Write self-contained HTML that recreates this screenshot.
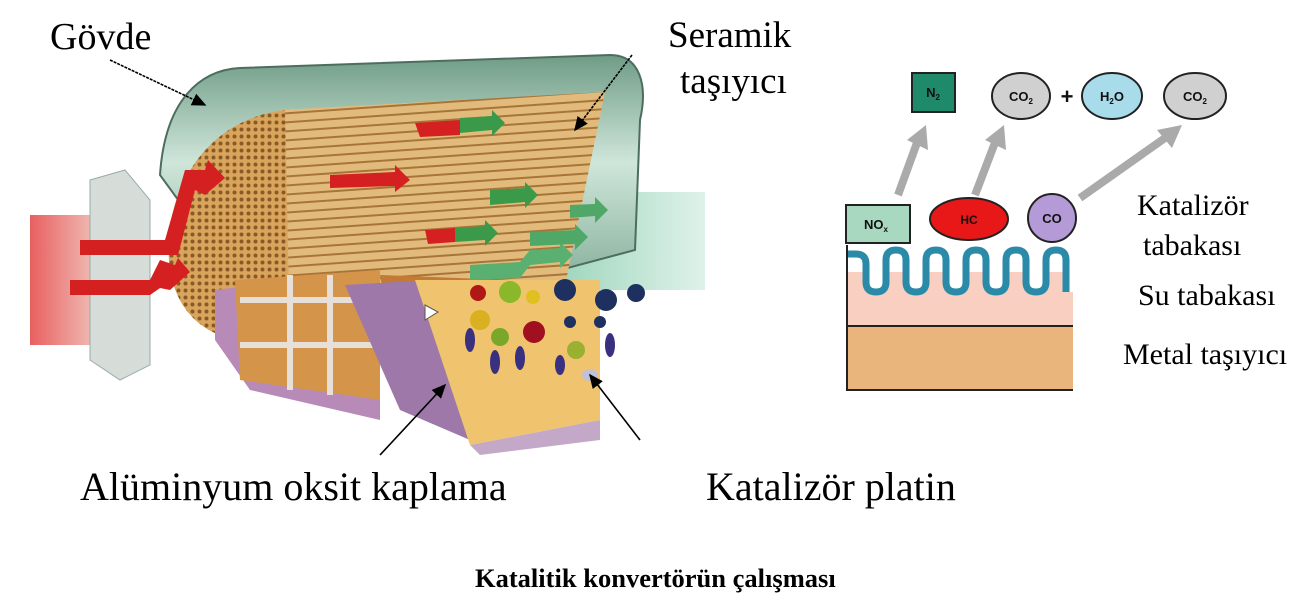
<!DOCTYPE html>
<html><head><meta charset="utf-8"><style>
html,body{margin:0;padding:0;background:#fff;}
body{width:1313px;height:613px;position:relative;overflow:hidden;font-family:"Liberation Serif",serif;}
.t{position:absolute;color:#000;white-space:nowrap;}
</style></head><body>
<svg width="1313" height="613" style="position:absolute;left:0;top:0">
<defs>
<linearGradient id="inl" x1="0" x2="1"><stop offset="0" stop-color="#e86060"/><stop offset="1" stop-color="#f4eee4"/></linearGradient>
<linearGradient id="outl" x1="0" x2="1"><stop offset="0" stop-color="#9fd6bd"/><stop offset="1" stop-color="#dff2ea"/></linearGradient>
<linearGradient id="shell" x1="0" y1="0" x2="0" y2="1"><stop offset="0" stop-color="#6f9c86"/><stop offset="0.5" stop-color="#cfe6da"/><stop offset="1" stop-color="#8fb6a2"/></linearGradient>
<pattern id="stripes" width="10" height="9" patternUnits="userSpaceOnUse" patternTransform="rotate(-4)"><rect width="10" height="9" fill="#e2bb7c"/><rect y="6" width="10" height="2" fill="#a87538"/></pattern>
<pattern id="honey" width="7" height="7" patternUnits="userSpaceOnUse"><rect width="7" height="7" fill="#d9a45c"/><circle cx="3.5" cy="3.5" r="2" fill="#8a5a26"/></pattern>
<marker id="ah" markerWidth="10" markerHeight="10" refX="8" refY="5" orient="auto"><path d="M0,1 L9,5 L0,9 z" fill="#000"/></marker>
</defs>
<rect x="30" y="215" width="100" height="130" fill="url(#inl)"/>
<polygon points="90,180 125,170 150,200 150,365 120,380 90,360" fill="#d6ddd8" stroke="#9aa" />
<rect x="560" y="192" width="145" height="98" fill="url(#outl)"/>
<path d="M160,175 C165,100 200,70 240,68 L610,55 C640,55 648,85 640,120 L635,250 L560,270 L200,230 Z" fill="url(#shell)" stroke="#4d6d5e" stroke-width="2"/>
<polygon points="280,110 605,92 562,300 385,350 280,330" fill="url(#stripes)"/>
<path d="M285,110 C200,120 160,200 170,270 C180,330 230,350 290,340 Z" fill="url(#honey)"/>
<polygon points="215,290 380,270 380,420 250,390 215,340" fill="#b88ab8"/>
<polygon points="235,280 380,270 380,400 240,380" fill="#d4954a"/>
<path d="M240,300 L380,300 M240,345 L380,345 M290,275 L290,390 M330,275 L330,395" stroke="#e8e0d8" stroke-width="6"/>
<polygon points="380,275 560,282 545,300 390,330" fill="#c27a35"/>
<polygon points="345,285 430,280 470,440 400,410" fill="#9e78a8"/>
<polygon points="415,280 600,280 600,420 470,445" fill="#f0c46e"/>
<polygon points="470,445 600,420 600,440 480,455" fill="#c4a8c8"/>
<g>
<circle cx="478" cy="293" r="8" fill="#b01818"/><circle cx="510" cy="292" r="11" fill="#8ab82a"/>
<circle cx="533" cy="297" r="7" fill="#e0c020"/><circle cx="565" cy="290" r="11" fill="#1e3060"/>
<circle cx="606" cy="300" r="11" fill="#1e3060"/><circle cx="636" cy="293" r="9" fill="#1e3060"/>
<circle cx="480" cy="320" r="10" fill="#d8b020"/><circle cx="534" cy="332" r="11" fill="#a01020"/>
<circle cx="500" cy="337" r="9" fill="#7aa62a"/><circle cx="576" cy="350" r="9" fill="#9ab030"/>
<circle cx="570" cy="322" r="6" fill="#1e3060"/><circle cx="600" cy="322" r="6" fill="#1e3060"/>
<ellipse cx="470" cy="340" rx="5" ry="12" fill="#3a3080"/><ellipse cx="495" cy="362" rx="5" ry="12" fill="#3a3080"/>
<ellipse cx="520" cy="358" rx="5" ry="12" fill="#3a3080"/><ellipse cx="560" cy="365" rx="5" ry="10" fill="#3a3080"/>
<ellipse cx="610" cy="345" rx="5" ry="12" fill="#3a3080"/><ellipse cx="590" cy="375" rx="8" ry="6" fill="#c0c0d8"/>
<polygon points="425,305 438,312 425,320" fill="#fff" stroke="#555"/>
</g>
<g fill="#d42020">
<polygon points="80,240 165,240 185,170 205,170 208,160 225,178 205,195 195,190 178,255 80,255"/>
<polygon points="70,280 150,280 160,260 175,265 178,258 190,272 170,290 160,288 150,295 70,295"/>
<polygon points="330,175 395,172 395,165 410,180 395,192 395,186 330,188"/>
<polygon points="415,123 460,120 460,135 420,137"/>
<polygon points="425,230 455,228 455,242 428,244"/>
</g>
<g fill="#3a9a4a">
<polygon points="460,118 492,116 492,110 505,123 492,136 492,130 460,133"/>
<polygon points="490,190 525,188 525,182 538,195 525,208 525,202 490,205"/>
<polygon points="455,228 485,226 485,220 498,233 485,246 485,240 455,242"/>
<polygon points="470,265 520,262 530,250 560,248 560,242 573,255 560,268 560,262 530,265 520,278 470,280" fill="#5ab070"/>
<polygon points="570,205 595,204 595,197 608,210 595,223 595,216 570,218" fill="#50a868"/>
<polygon points="530,232 575,230 575,224 588,237 575,250 575,244 530,246" fill="#50a868"/>
</g>
<g stroke="#000" stroke-width="1.6" fill="none" marker-end="url(#ah)">
<line x1="110" y1="60" x2="205" y2="105" stroke-dasharray="3,1"/>
<line x1="632" y1="55" x2="575" y2="130" stroke-dasharray="3,1"/>
<line x1="380" y1="455" x2="445" y2="385"/>
<line x1="640" y1="440" x2="590" y2="375"/>
</g>
<!-- RIGHT DIAGRAM -->
<rect x="846" y="272" width="227" height="54" fill="#f8cfc0"/>
<path d="M849,258 Q856,254 866,264 L866,282 Q866,292 876,292 Q886,292 886,282 L886,260 Q886,250 896,250 Q906,250 906,260 L906,282 Q906,292 916,292 Q926,292 926,282 L926,260 Q926,250 936,250 Q946,250 946,260 L946,282 Q946,292 956,292 Q966,292 966,282 L966,260 Q966,250 976,250 Q986,250 986,260 L986,282 Q986,292 996,292 Q1006,292 1006,282 L1006,260 Q1006,250 1016,250 Q1026,250 1026,260 L1026,282 Q1026,292 1036,292 Q1046,292 1046,282 L1046,260 Q1046,250 1056,250 Q1066,250 1066,260 L1066,292 L1073,292 L1073,245 L849,245 Z" fill="#fff"/>
<path d="M846,254 L856,254 Q866,254 866,264 L866,282 Q866,292 876,292 Q886,292 886,282 L886,260 Q886,250 896,250 Q906,250 906,260 L906,282 Q906,292 916,292 Q926,292 926,282 L926,260 Q926,250 936,250 Q946,250 946,260 L946,282 Q946,292 956,292 Q966,292 966,282 L966,260 Q966,250 976,250 Q986,250 986,260 L986,282 Q986,292 996,292 Q1006,292 1006,282 L1006,260 Q1006,250 1016,250 Q1026,250 1026,260 L1026,282 Q1026,292 1036,292 Q1046,292 1046,282 L1046,260 Q1046,250 1056,250 Q1066,250 1066,260 L1066,292" fill="none" stroke="#2a8aa8" stroke-width="7"/>
<rect x="846" y="326" width="227" height="64" fill="#eab57d"/>
<line x1="846" y1="326" x2="1073" y2="326" stroke="#222" stroke-width="2"/>
<line x1="846" y1="390" x2="1073" y2="390" stroke="#222" stroke-width="2"/>
<line x1="847" y1="245" x2="847" y2="390" stroke="#222" stroke-width="2"/>
<g stroke="#aaa" stroke-width="8" fill="none">
<line x1="898" y1="195" x2="918" y2="140"/>
<line x1="975" y1="195" x2="996" y2="140"/>
<line x1="1080" y1="198" x2="1165" y2="138"/>
</g>
<polygon points="926,125 928,150 907,140" fill="#aaa"/>
<polygon points="1004,125 1006,150 985,140" fill="#aaa"/>
<polygon points="1182,125 1172,148 1157,130" fill="#aaa"/>
<rect x="912" y="73" width="43" height="39" fill="#1f8a6a" stroke="#222" stroke-width="2"/>
<text x="933" y="97" font-family="Liberation Sans" font-weight="bold" font-size="13" text-anchor="middle" fill="#111">N<tspan font-size="8" dy="3">2</tspan></text>
<ellipse cx="1021" cy="96" rx="29" ry="23" fill="#d0d0d0" stroke="#222" stroke-width="2"/>
<text x="1021" y="101" font-family="Liberation Sans" font-weight="bold" font-size="13" text-anchor="middle" fill="#111">CO<tspan font-size="8" dy="3">2</tspan></text>
<text x="1067" y="104" font-family="Liberation Sans" font-weight="bold" font-size="22" text-anchor="middle" fill="#111">+</text>
<ellipse cx="1112" cy="96" rx="30" ry="23" fill="#a8dcea" stroke="#222" stroke-width="2"/>
<text x="1112" y="101" font-family="Liberation Sans" font-weight="bold" font-size="13" text-anchor="middle" fill="#111">H<tspan font-size="8" dy="3">2</tspan><tspan dy="-3">O</tspan></text>
<ellipse cx="1195" cy="96" rx="31" ry="23" fill="#d0d0d0" stroke="#222" stroke-width="2"/>
<text x="1195" y="101" font-family="Liberation Sans" font-weight="bold" font-size="13" text-anchor="middle" fill="#111">CO<tspan font-size="8" dy="3">2</tspan></text>
<rect x="846" y="205" width="64" height="38" fill="#a8d8c0" stroke="#222" stroke-width="2"/>
<text x="876" y="229" font-family="Liberation Sans" font-weight="bold" font-size="13" text-anchor="middle" fill="#111">NO<tspan font-size="8" dy="3">x</tspan></text>
<ellipse cx="969" cy="219" rx="39" ry="21" fill="#e81818" stroke="#222" stroke-width="2"/>
<text x="969" y="224" font-family="Liberation Sans" font-weight="bold" font-size="12" text-anchor="middle" fill="#111">HC</text>
<circle cx="1052" cy="218" r="24" fill="#b49ad6" stroke="#222" stroke-width="2"/>
<text x="1052" y="223" font-family="Liberation Sans" font-weight="bold" font-size="13" text-anchor="middle" fill="#111">CO</text>
</svg>
<div class="t" style="left:50px;top:15px;font-size:38px;">Gövde</div>
<div class="t" style="left:668px;top:14px;font-size:37px;">Seramik</div>
<div class="t" style="left:680px;top:60px;font-size:37px;">taşıyıcı</div>
<div class="t" style="left:80px;top:463px;font-size:40px;">Alüminyum oksit kaplama</div>
<div class="t" style="left:706px;top:463px;font-size:40px;">Katalizör platin</div>
<div class="t" style="left:1137px;top:189px;font-size:30px;">Katalizör</div>
<div class="t" style="left:1143px;top:229px;font-size:30px;">tabakası</div>
<div class="t" style="left:1138px;top:279px;font-size:30px;">Su tabakası</div>
<div class="t" style="left:1123px;top:338px;font-size:30px;">Metal taşıyıcı</div>
<div class="t" style="left:475px;top:563px;font-size:26.5px;font-weight:bold;">Katalitik konvertörün çalışması</div>
</body></html>
